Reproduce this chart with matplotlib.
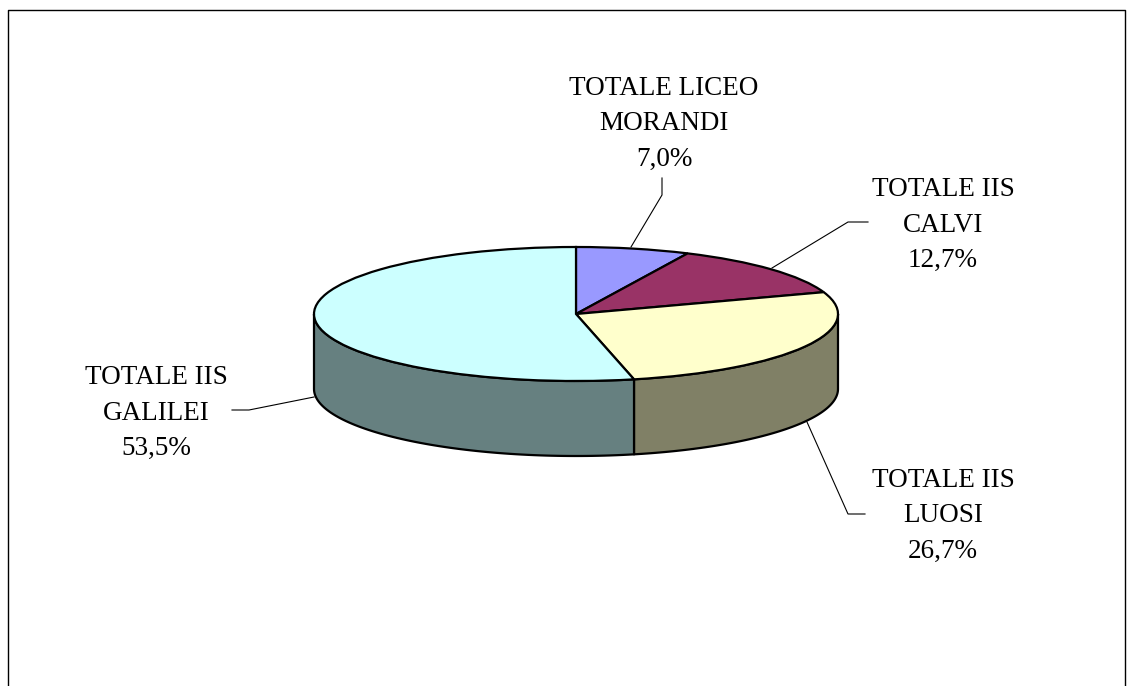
import numpy as np
import matplotlib.pyplot as plt

# chart data
labels = ['TOTALE LICEO\nMORANDI', 'TOTALE IIS\nCALVI', 'TOTALE IIS\nLUOSI', 'TOTALE IIS\nGALILEI']
values = [7.0, 12.7, 26.7, 53.5]
pct_labels = ['7,0%', '12,7%', '26,7%', '53,5%']
top_colors = ['#9999FF', '#993366', '#FFFFCC', '#CCFFFF']
side_colors = ['#4D4D80', '#4D1A33', '#808066', '#668080']

W, H = 1132, 686
cx, cy, rx, ry, depth = 576, 314, 262, 67, 75

fig = plt.figure(figsize=(W / 100, H / 100), dpi=100)
plt.rcParams['font.family'] = ['Liberation Serif', 'DejaVu Serif']

# full figure axes in pixel units, for the frame, wall, leaders and labels
ax = fig.add_axes([0, 0, 1, 1])
ax.set_xlim(0, W)
ax.set_ylim(H, 0)
ax.axis('off')

# frame (bottom edge is cut off in the original)
ax.plot([8, 8, 1125, 1125], [H, 10, 10, H], color='black', lw=1.0)

# side wall of the pie, only the part facing us (90..270 deg clockwise from top)
edges = np.cumsum([0] + values) / sum(values) * 360
for i in range(len(values)):
    a0 = max(edges[i], 90)
    a1 = min(edges[i + 1], 270)
    if a0 >= a1:
        continue
    t = np.radians(np.linspace(a0, a1, 80))
    x = cx + rx * np.sin(t)
    y = cy - ry * np.cos(t)
    ax.fill(np.r_[x, x[::-1]], np.r_[y, y[::-1] + depth],
            facecolor=side_colors[i], edgecolor='black', lw=1.6, joinstyle='round')

# top face, a normal pie squeezed into an ellipse
ax_top = fig.add_axes([(cx - rx) / W, 1 - (cy + ry) / H, 2 * rx / W, 2 * ry / H], zorder=2)
ax_top.pie(values, colors=top_colors, startangle=90, counterclock=False, radius=1,
           wedgeprops={'edgecolor': 'black', 'linewidth': 1.6})
ax_top.set_aspect('auto')
ax_top.set_xlim(-1, 1)
ax_top.set_ylim(-1, 1)
ax_top.patch.set_visible(False)
for art in ax_top.patches:
    art.set_clip_on(False)

# leader lines
leaders = [([662, 662, 631], [178, 195, 247]),
           ([868, 848, 772], [222, 222, 268]),
           ([865, 848, 807], [514, 514, 422]),
           ([232, 249, 314], [410, 410, 397])]
for lx, ly in leaders:
    ax.plot(lx, ly, color='black', lw=0.8)

# labels
label_pos = [(664, 124), (943, 225), (943, 516), (156, 413)]
for name, pct, (px, py) in zip(labels, pct_labels, label_pos):
    ax.text(px, py, name + '\n' + pct, ha='center', va='center', fontsize=19.5,
            linespacing=1.56, color='black')

fig.savefig('out.png', dpi=100)
